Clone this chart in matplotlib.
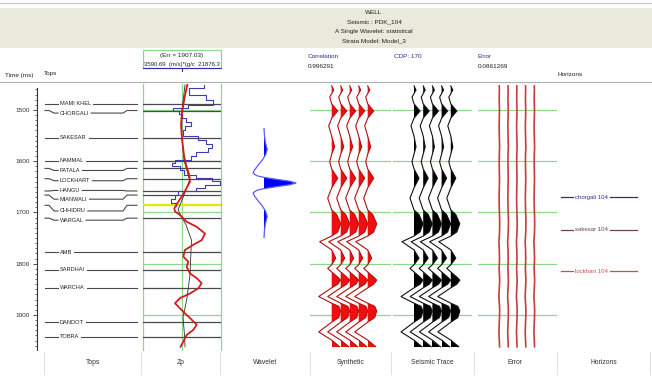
import numpy as np
import matplotlib
matplotlib.use('Agg')
import matplotlib.pyplot as plt
from matplotlib.patches import Rectangle
from matplotlib import font_manager

W, H = 652, 376
_avail = {f.name for f in font_manager.fontManager.ttflist}
_narrow = [f for f in ['Liberation Sans Narrow'] if f in _avail]
plt.rcParams['font.family'] = _narrow + ['Liberation Sans', 'DejaVu Sans']

# ---------------------------------------------------------------- data
title_lines = ['WELL', 'Seismic : PDK_104', 'A Single Wavelet: statistical',
               'Strata Model: Model_3']
time_ticks = [1500, 1600, 1700, 1800, 1900]
track_names = ['Tops', 'Zp', 'Wavelet', 'Synthetic', 'Seismic Trace', 'Error', 'Horizons']

top_names = ['MAMI KHEL', 'CHORGALI', 'SAKESAR', 'NAMMAL', 'PATALA', 'LOCKHART', 'HANGU',
             'MIANWALI', 'CHHIDRU', 'WARGAL', 'AMB', 'SARDHAI', 'WARCHA', 'DANDOT', 'TOBRA']
top_times = [1488, 1501, 1554, 1599, 1614, 1634, 1658, 1666, 1686, 1711,
             1778, 1812, 1847, 1914, 1942]
top_label_times = [1488, 1506, 1554, 1599, 1618, 1638, 1657, 1674, 1697, 1715,
                   1778, 1812, 1847, 1914, 1942]
highlight_top = 'CHHIDRU'

zp_min, zp_max = 3590.69, 21876.3
zp_err = 1907.03
zp_unit = '(m/s)*(g/c'

# blocky impedance log: block top time and value
zp_log_t = [1451, 1457, 1471, 1480, 1490, 1496, 1502, 1508, 1516, 1523, 1531, 1539,
            1551, 1558, 1566, 1574, 1582, 1590, 1598, 1603, 1609, 1617, 1627, 1633,
            1638, 1646, 1652, 1658, 1666, 1674, 1681, 1687]
zp_log_v = [17890, 14380, 18360, 20000, 14140, 10620, 12030, 12730, 13670, 14840,
            13440, 12970, 16480, 18360, 19770, 18830, 16020, 14840, 11090, 10390,
            12270, 13200, 16020, 19770, 21640, 18130, 16020, 11800, 11090, 10160,
            11330, 11330]

# smoothed (upscaled) impedance
zp_red_t = [1451, 1471, 1490, 1510, 1529, 1549, 1568, 1588, 1607, 1627, 1640, 1652,
            1666, 1679, 1692, 1698, 1705, 1718, 1728, 1741, 1754, 1763, 1773, 1786,
            1796, 1806, 1819, 1828, 1838, 1848, 1858, 1867, 1877, 1887, 1897, 1906,
            1919, 1929, 1939, 1952, 1962]
zp_red_v = [13980, 13440, 13040, 12660, 12500, 12660, 12900, 13200, 13670, 14440,
            14610, 13830, 12900, 11870, 10930, 11090, 12260, 13830, 16180, 18120,
            17350, 15380, 13440, 13040, 14210, 13830, 14610, 16180, 17350, 16550,
            14610, 12260, 11090, 12260, 13440, 14610, 16180, 15380, 13830, 13040,
            12400]

# low-frequency trend
zp_trend_t = [1451, 1500, 1549, 1598, 1637, 1666, 1695, 1724, 1754, 1783, 1822,
              1871, 1904, 1939, 1962]
zp_trend_v = [13440, 12730, 12660, 13200, 14500, 13200, 11800, 13670, 14960, 14800,
              14610, 13830, 12970, 13320, 13440]

# statistical wavelet (lag in ms, normalised amplitude)
wav_lag = [-107, -95, -80, -65, -55, -45, -35, -25, -19, -14, -11, -7, -3.5, 0,
           3.5, 7, 11, 14, 19, 25, 35, 45, 55, 65, 80, 95, 107]
wav_amp = [0, 0.01, 0.04, 0.10, 0.05, -0.05, -0.18, -0.30, -0.34, -0.22, 0, 0.4, 0.8, 1.0,
           0.8, 0.4, 0, -0.22, -0.34, -0.30, -0.18, -0.05, 0.05, 0.10, 0.04, 0.01, 0]

# trace samples (time in ms, amplitude)
trace_t = [1453, 1461, 1475, 1488, 1502, 1516, 1531, 1551, 1572, 1586, 1601, 1615,
           1633, 1652, 1672, 1695, 1704, 1722, 1738, 1746, 1757, 1773, 1789, 1802,
           1809, 1816, 1826, 1832, 1840, 1847, 1864, 1877, 1883, 1892, 1905, 1914,
           1933, 1949, 1962]
syn_amp = [0, 2, -2, 0, 6, 0, -3, 0, 3, 0, -2, 0,
           6, 0, -4, 0, 5, 9, 6, 0, -12, 0, 4, 0,
           -4, 0, 6, 9, 6, 0, -13, 0, 7, 9, 7, 0,
           -13, 0, 8]
seis_amp = [0, 2, -2, 0, 6, 0, -3, 0, 2, 0, -2, 0,
            5, 0, -4, 0, 5, 9, 6, 0, -12, 0, 5, 0,
            -4, 0, 6, 9, 6, 0, -13, 0, 7, 9, 7, 0,
            -13, 0, 8]
err_amp = [0, 0.1, -0.1, 0, 0.2, 0, -0.2, 0, 0.3, 0, -0.1, 0,
           0.2, 0, -0.2, 0, 0.2, 0.4, 0.2, 0, -0.4, 0, 0.2, 0,
           -0.2, 0, 0.2, 0.35, 0.2, 0, -0.4, 0, 0.2, 0.35, 0.2, 0,
           -0.35, 0, 0.25]

corr_value = 0.996291
cdp = 170
err_value = 0.0861269

hz_names = ['chorgali 104', 'sakesar 104', 'lockhart 104']
hz_times = [1670, 1734, 1815]
hz_colors = ['#2e2e8a', '#6e4444', '#c85050']

# ---------------------------------------------------------------- layout
fig = plt.figure(figsize=(W / 100, H / 100), dpi=100)
fig.patch.set_facecolor('white')


def rect(x0, y0, x1, y1):
    return [x0 / W, 1 - y1 / H, (x1 - x0) / W, (y1 - y0) / H]


TOP, BOT = 84, 350
PXMS = 0.5125
T_TOP = 1500 - (110 - TOP) / PXMS
T_BOT = 1500 + (BOT - 110) / PXMS
GREEN = '#8ed88e'
GRAY = '#4a4a4a'
FS = 4.6

bg = fig.add_axes([0, 0, 1, 1])
bg.set_xlim(0, W)
bg.set_ylim(H, 0)
bg.axis('off')
bg.add_patch(Rectangle((0, 8), W, 40, facecolor='#e9e9dc', edgecolor='none'))
bg.plot([0, W], [3, 3], color='#c4c4c4', lw=0.8)
bg.plot([0, W], [82, 82], color='#b0b0b0', lw=0.8)
for i, s in enumerate(title_lines):
    bg.text(374, 12.5 + 9.3 * i, s, ha='center', va='center', fontsize=FS, color='#222222')

# Zp header box
bg.add_patch(Rectangle((143, 50), 78, 18, fill=False, edgecolor=GREEN, lw=0.9))
bg.plot([143, 221], [68, 68], color='#3030a0', lw=0.8)
bg.plot([182, 182], [68, 71], color='#3030a0', lw=0.8)
bg.text(182, 56, f'(Err = {zp_err:.2f})', ha='center', va='center', fontsize=FS, color='#222222')
bg.text(182, 64.5, f'{zp_min:.2f}  {zp_unit}  {zp_max:.1f}', ha='center', va='center',
        fontsize=FS - 0.3, color='#222222')

bg.text(308, 56, 'Correlation', ha='left', va='center', fontsize=FS, color='#2a2aa0')
bg.text(308, 66, f'{corr_value:.6f}', ha='left', va='center', fontsize=FS, color='#222222')
bg.text(394, 56, f'CDP: {cdp}', ha='left', va='center', fontsize=FS, color='#2a2aa0')
bg.text(478, 56, 'Error', ha='left', va='center', fontsize=FS, color='#2a2aa0')
bg.text(478, 66, f'{err_value:.7f}', ha='left', va='center', fontsize=FS, color='#222222')
bg.text(5, 75, 'Time (ms)', ha='left', va='center', fontsize=FS, color='#222222')
bg.text(44, 74, 'Tops', ha='left', va='center', fontsize=FS, color='#222222')
bg.text(558, 75, 'Horizons', ha='left', va='center', fontsize=FS, color='#222222')

# bottom track names
seps = [44, 141, 220, 310, 391, 474, 557, 650]
for x in seps:
    bg.plot([x, x], [352, 374], color='#e2e2e2', lw=0.8)
for i, name in enumerate(track_names):
    bg.text((seps[i] + seps[i + 1]) / 2, 362, name, ha='center', va='center',
            fontsize=FS + 0.3, color='#333333')

# ---------------------------------------------------------------- tops track + time axis
axt = fig.add_axes(rect(37, TOP, 141, BOT))
axt.set_xlim(37, 141)
axt.set_ylim(T_BOT, T_TOP)
axt.patch.set_alpha(0)
for s in ['top', 'right', 'bottom']:
    axt.spines[s].set_visible(False)
axt.spines['left'].set_bounds(1458, T_BOT)
axt.spines['left'].set_color('#333333')
axt.spines['left'].set_linewidth(0.8)
axt.set_xticks([])
axt.set_yticks(time_ticks)
axt.set_yticks(np.arange(1460, 1961, 10), minor=True)
axt.tick_params(axis='y', which='major', length=2.6, width=0.6, labelsize=FS,
                pad=2.5, colors='#333333')
axt.tick_params(axis='y', which='minor', length=1.4, width=0.5, colors='#333333')

renderer = fig.canvas.get_renderer()
inv = axt.transData.inverted()
for name, tt, tl in zip(top_names, top_times, top_label_times):
    txt = axt.text(60, tl, name, fontsize=FS - 0.5, va='center', ha='left', color='#222222')
    bb = txt.get_window_extent(renderer)
    x_end = inv.transform((bb.x1, 0))[0]
    axt.plot([45, 49, 54, 58], [tt, tt, tl, tl], color=GRAY, lw=0.8)
    axt.plot([x_end + 2, 123, 127, 137], [tl, tl, tt, tt], color=GRAY, lw=0.8)

# ---------------------------------------------------------------- Zp track
axz = fig.add_axes(rect(143, TOP, 221, BOT))
axz.set_xlim(zp_min, zp_max)
axz.set_ylim(T_BOT, T_TOP)
axz.axis('off')
zp_mid = (zp_min + zp_max) / 2
for x in (zp_min, zp_mid, zp_max):
    axz.axvline(x, color=GREEN, lw=0.9, clip_on=False)
for t in time_ticks:
    axz.axhline(t, color=GREEN, lw=0.9)
for name, t in zip(top_names, top_times):
    if name == highlight_top:
        axz.axhline(t, color='#e6e600', lw=1.6)
    else:
        axz.axhline(t, color=GRAY, lw=0.9)
axz.plot(zp_log_v, zp_log_t, drawstyle='steps-pre', color='#3c3cb4', lw=0.8)
axz.plot(zp_trend_v, zp_trend_t, color='#303030', lw=0.6)
axz.plot(zp_red_v, zp_red_t, color='#d01e1e', lw=1.3)

# ---------------------------------------------------------------- wavelet
axw = fig.add_axes(rect(225, 128, 305, 238))
axw.set_xlim(-(264 - 225) / 32, (305 - 264) / 32)
axw.set_ylim(max(wav_lag), min(wav_lag))
axw.axis('off')
wl = np.array(wav_lag, float)
wa = np.array(wav_amp, float)
axw.fill_betweenx(wl, 0, wa, where=wa > 0, interpolate=True, color='#0000ff', lw=0)
axw.plot(wa, wl, color='#5a5aff', lw=0.9)


# ---------------------------------------------------------------- traces
def trace_track(x0, x1, amps, line_c, fill_c, base0, step, lw=0.8, fill=True):
    ax = fig.add_axes(rect(x0, TOP, x1, BOT))
    ax.set_xlim(0, x1 - x0)
    ax.set_ylim(T_BOT, T_TOP)
    ax.axis('off')
    for t in time_ticks:
        ax.axhline(t, color=GREEN, lw=0.9, zorder=1)
    tt = np.array(trace_t, float)
    aa = np.array(amps, float)
    for i in range(5):
        off = base0 + step * i
        if fill:
            ax.fill_betweenx(tt, off, off + aa, where=aa > 0, interpolate=True,
                             color=fill_c, lw=0, zorder=2 + i)
        ax.plot(off + aa, tt, color=line_c, lw=lw, zorder=2 + i)
    return ax


trace_track(310, 391, syn_amp, '#b01010', '#ee1010', 21.7, 9.0)
trace_track(393, 472, seis_amp, '#111111', '#000000', 21.0, 9.2)
trace_track(478, 557, err_amp, '#c83c3c', '#c83c3c', 21.3, 8.75, lw=1.2, fill=False)

# ---------------------------------------------------------------- horizons
axh = fig.add_axes(rect(557, TOP, 650, BOT))
axh.set_xlim(557, 650)
axh.set_ylim(T_BOT, T_TOP)
axh.axis('off')
invh = axh.transData.inverted()
for name, t, c in zip(hz_names, hz_times, hz_colors):
    txt = axh.text(575, t, name, fontsize=FS - 0.3, va='center', ha='left', color=c)
    bb = txt.get_window_extent(renderer)
    x_end = invh.transform((bb.x1, 0))[0]
    axh.plot([561, 573], [t, t], color=c, lw=0.9)
    axh.plot([x_end + 2, 637], [t, t], color=c, lw=0.9)

fig.savefig('out.png', dpi=100, facecolor='white')
